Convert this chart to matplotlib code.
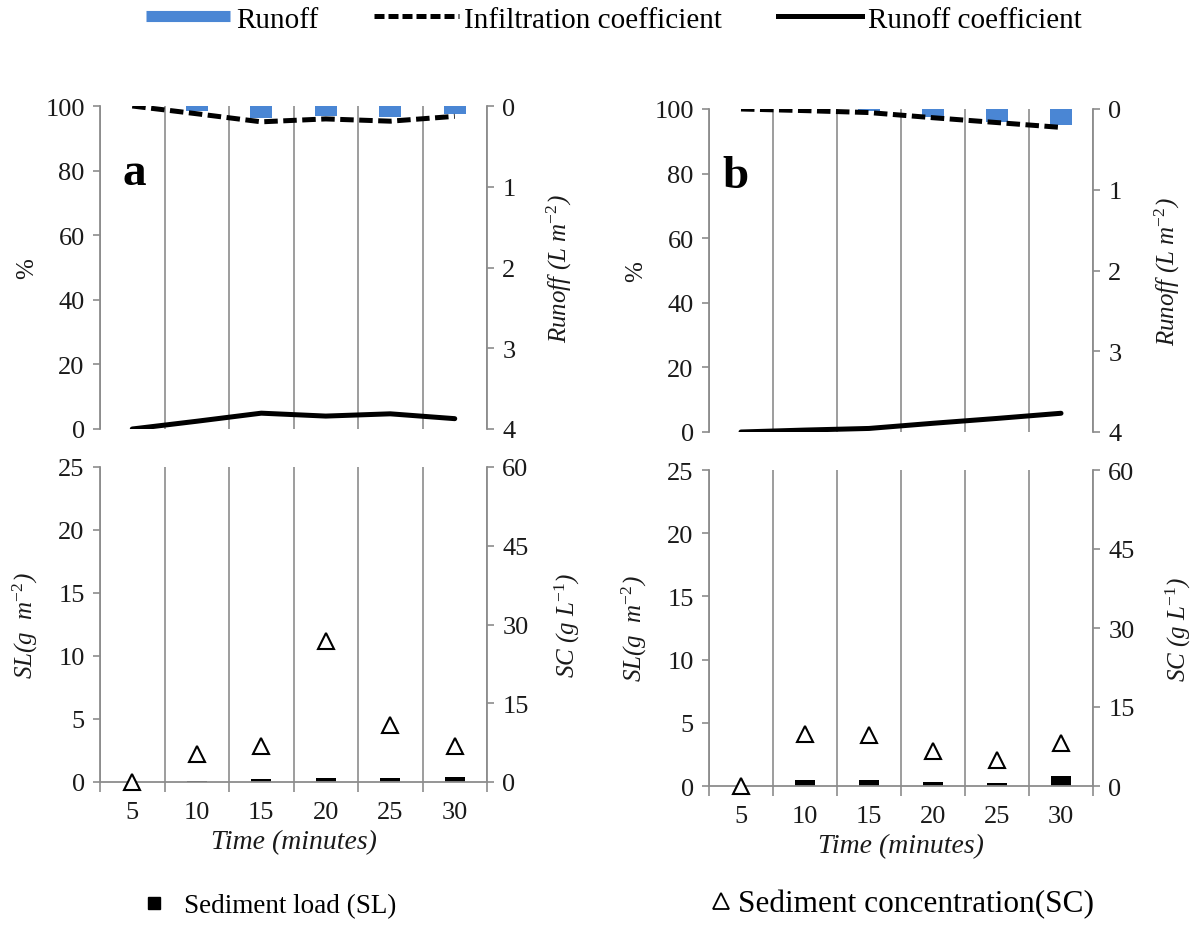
import numpy as np
import matplotlib
matplotlib.use("Agg")
import matplotlib.pyplot as plt
from matplotlib.lines import Line2D

plt.rcParams['font.family'] = ['Liberation Serif', 'DejaVu Serif']
plt.rcParams['mathtext.fontset'] = 'custom'
plt.rcParams['mathtext.rm'] = 'Liberation Serif'
plt.rcParams['mathtext.it'] = 'Liberation Serif:italic'

times = ['5', '10', '15', '20', '25', '30']

# panel a
runoff_a = [0, 0.06, 0.15, 0.12, 0.14, 0.10]
infil_a = [100, 97.6, 95.1, 96.0, 95.3, 96.8]
runoff_coef_a = [0, 2.4, 4.9, 4.0, 4.7, 3.2]
sl_a = [0, 0.08, 0.20, 0.28, 0.32, 0.42]
sc_a = [0, 5.3, 6.9, 26.9, 10.9, 6.9]

# panel b
runoff_b = [0, 0, 0.03, 0.10, 0.16, 0.20]
infil_b = [100, 99.5, 98.9, 97.3, 95.8, 94.3]
runoff_coef_b = [0, 0.6, 1.1, 2.7, 4.2, 5.8]
sl_b = [0, 0.44, 0.44, 0.31, 0.20, 0.83]
sc_b = [0, 9.8, 9.7, 6.6, 4.9, 8.1]

blue = '#4a86d4'
gray = '#8c8c8c'
txt = '#1a1a1a'
fs = 19

W, H = 1192, 929
fig = plt.figure(figsize=(W / 100, H / 100), dpi=100)


def rect(x0, x1, y0, y1):
    # pixel box -> figure fraction
    return [x0 / W, 1 - y1 / H, (x1 - x0) / W, (y1 - y0) / H]


def style(ax, sides):
    for s in ['top', 'bottom', 'left', 'right']:
        ax.spines[s].set_visible(s in sides)
        ax.spines[s].set_color(gray)
        ax.spines[s].set_linewidth(1.3)
    ax.tick_params(axis='y', colors=gray, labelcolor=txt, labelsize=fs,
                   direction='out', length=5, width=1.2, pad=6)


def column(xl, xr, ytop, ybot, btop, bbot, letter, lx, runoff, infil, coef, sl, sc):
    x = np.arange(len(times))
    bounds = np.arange(-0.5, len(times), 1.0)

    # top panel
    ax = fig.add_axes(rect(xl, xr, ytop, ybot))
    ax2 = ax.twinx()
    ax2.bar(x, runoff, width=0.34, color=blue)
    ax2.set_ylim(4, 0)
    ax2.set_yticks([0, 1, 2, 3, 4])
    ax.plot(x, infil, color='black', lw=3.6, dashes=(2.7, 1.1))
    ax.plot(x, coef, color='black', lw=3.6, solid_capstyle='round')
    ax.set_ylim(0, 100)
    ax.set_yticks(range(0, 101, 20))
    ax.set_xlim(-0.5, len(times) - 0.5)
    ax.set_xticks(bounds)
    ax.grid(axis='x', color=gray, lw=1.2)
    ax.tick_params(axis='x', length=0, labelbottom=False)
    ax2.tick_params(axis='x', length=0, labelbottom=False)
    ax.set_zorder(ax2.get_zorder() + 1)
    ax.patch.set_visible(False)
    style(ax, ['left'])
    style(ax2, ['right'])
    ax.set_ylabel('%', fontsize=fs - 1, color=txt)
    ax2.set_ylabel('Runoff (L m$^{-2}$)', fontsize=fs - 1, style='italic', color=txt)
    ax.text(lx, 0.76, letter, transform=ax.transAxes, fontsize=34,
            fontweight='bold', va='baseline')

    # bottom panel
    bx = fig.add_axes(rect(xl, xr, btop, bbot))
    bx.bar(x, sl, width=0.31, color='black')
    bx.set_ylim(0, 25)
    bx.set_yticks(range(0, 26, 5))
    bx2 = bx.twinx()
    bx2.plot(x, sc, ls='none', marker='^', ms=12, mfc='white', mec='black',
             mew=1.5, clip_on=False)
    bx2.set_ylim(0, 60)
    bx2.set_yticks(range(0, 61, 15))
    bx.set_xlim(-0.5, len(times) - 0.5)
    bx.set_xticks(bounds)
    bx.set_xticks(x, labels=times, minor=True)
    bx.grid(axis='x', which='major', color=gray, lw=1.2)
    bx.tick_params(axis='x', which='major', direction='out', length=7,
                   width=1.2, color=gray, labelbottom=False)
    bx.tick_params(axis='x', which='minor', length=0, pad=14,
                   labelsize=fs, labelcolor=txt)
    style(bx, ['left', 'bottom'])
    style(bx2, ['right'])
    bx.set_ylabel('SL(g  m$^{-2}$)', fontsize=fs - 1, style='italic', color=txt)
    bx2.set_ylabel('SC (g L$^{-1}$)', fontsize=fs - 1, style='italic', color=txt)
    bx.set_xlabel('Time (minutes)', fontsize=fs + 1, style='italic', color=txt,
                  labelpad=4)
    return ax, ax2, bx, bx2


a = column(100, 487, 107, 430, 468, 783, 'a', 0.057,
           runoff_a, infil_a, runoff_coef_a, sl_a, sc_a)
b = column(709, 1093, 110, 433, 471, 787, 'b', 0.036,
           runoff_b, infil_b, runoff_coef_b, sl_b, sc_b)

# label positions (axes fraction), per column
for (ax, ax2, bx, bx2), r_run, r_sc in ((a, 1.15, 1.17), (b, 1.155, 1.185)):
    ax.yaxis.set_label_coords(-0.16, 0.5)
    bx.yaxis.set_label_coords(-0.155, 0.5)
    ax2.yaxis.set_label_coords(r_run, 0.5)
    bx2.yaxis.set_label_coords(r_sc, 0.5)

# top legend
top_handles = [
    Line2D([], [], color=blue, lw=8, solid_capstyle='butt'),
    Line2D([], [], color='black', lw=3.6, dashes=(2.0, 0.8)),
    Line2D([], [], color='black', lw=3.6),
]
fig.legend(top_handles, ['Runoff', 'Infiltration coefficient', 'Runoff coefficient'],
           loc='center', bbox_to_anchor=(0.515, 0.978), ncol=3, frameon=False,
           fontsize=21, handlelength=2.9, handletextpad=0.2, columnspacing=1.9)

# bottom legends
fig.legend([Line2D([], [], ls='none', marker='s', ms=9, color='black')],
           ['Sediment load (SL)'], loc='center left',
           bbox_to_anchor=(116 / W, 0.024), frameon=False, fontsize=19.5,
           handlelength=1.0, handletextpad=0.6)
fig.legend([Line2D([], [], ls='none', marker='^', ms=12, mfc='white',
                   mec='black', mew=1.3)],
           ['Sediment concentration(SC)'], loc='center left',
           bbox_to_anchor=(677 / W, 0.026), frameon=False, fontsize=22.5,
           handlelength=1.0, handletextpad=0.05)

fig.savefig('out.png', dpi=100)
